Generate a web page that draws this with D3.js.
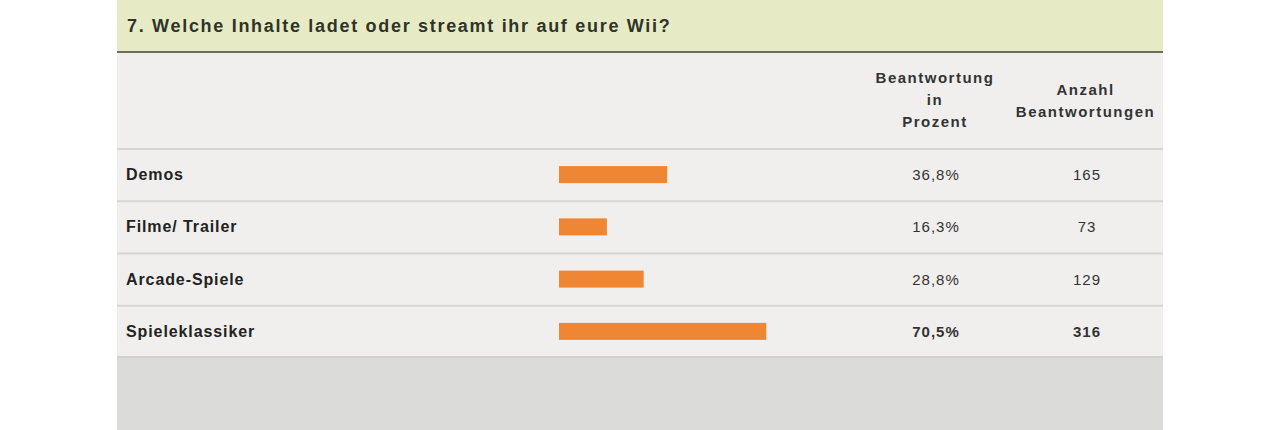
<!DOCTYPE html>
<html><head><meta charset="utf-8">
<script src="https://cdn.jsdelivr.net/npm/d3@7"></script>
<style>body{margin:0;background:#fff}svg{display:block}</style>
</head><body>
<svg id="c" width="1280" height="430"></svg>
<script>
const title = "7. Welche Inhalte ladet oder streamt ihr auf eure Wii?";
const categories = ["Demos", "Filme/ Trailer", "Arcade-Spiele", "Spieleklassiker"];
const percents = [36.8, 16.3, 28.8, 70.5];
const counts = [165, 73, 129, 316];
const percentLabels = ["36,8%", "16,3%", "28,8%", "70,5%"];
const headerPercent = ["Beantwortung", "in", "Prozent"];
const headerCount = ["Anzahl", "Beantwortungen"];

const svg = d3.select("#c");
const L = 117, R = 1163;
const font = "'Liberation Sans', Arial, sans-serif";

// background panels
svg.append("rect").attr("x", L).attr("y", 0).attr("width", R - L).attr("height", 51).attr("fill", "#e7ebc5");
svg.append("rect").attr("x", L).attr("y", 51).attr("width", R - L).attr("height", 2).attr("fill", "#6e6e60");
svg.append("rect").attr("x", L).attr("y", 53).attr("width", R - L).attr("height", 305).attr("fill", "#f0efed");
svg.append("rect").attr("x", L).attr("y", 358).attr("width", R - L).attr("height", 72).attr("fill", "#dbdbd9");

svg.append("text").attr("x", 127).attr("y", 32).attr("font-family", font).attr("font-weight", "bold")
  .attr("font-size", 18).attr("letter-spacing", 1.7).attr("fill", "#2f3328").text(title);

// header
const hp = svg.append("text").attr("font-family", font).attr("font-weight", "bold").attr("font-size", 15)
  .attr("letter-spacing", 1.5).attr("fill", "#333").attr("text-anchor", "middle");
headerPercent.forEach((t, i) => hp.append("tspan").attr("x", 935).attr("y", 83 + i * 22).text(t));
const hc = svg.append("text").attr("font-family", font).attr("font-weight", "bold").attr("font-size", 15)
  .attr("letter-spacing", 1.5).attr("fill", "#333").attr("text-anchor", "middle");
headerCount.forEach((t, i) => hc.append("tspan").attr("x", 1085.5).attr("y", 95 + i * 22).text(t));

// rows
const y = d3.scaleBand().domain(categories).range([148, 357]).padding(0);
const x = d3.scaleLinear().domain([0, 100]).range([559, 559 + 294]);

const rows = svg.selectAll("g.row").data(categories).join("g").attr("class", "row");
rows.append("rect").attr("x", L).attr("y", d => y(d)).attr("width", R - L).attr("height", 2).attr("fill", "#d6d6d4");
rows.append("text").attr("x", 126).attr("y", d => y(d) + y.bandwidth() / 2 + 6)
  .attr("font-family", font).attr("font-weight", "bold").attr("font-size", 16).attr("letter-spacing", 0.9)
  .attr("fill", "#222").text(d => d);
rows.append("rect").attr("x", x(0)).attr("y", d => y(d) + y.bandwidth() / 2 - 8)
  .attr("width", (d, i) => x(percents[i]) - x(0)).attr("height", 17).attr("fill", "#ee8633");
const last = categories.length - 1;
rows.append("text").attr("x", 936).attr("y", d => y(d) + y.bandwidth() / 2 + 6)
  .attr("text-anchor", "middle").attr("font-family", font).attr("font-size", 15).attr("letter-spacing", 1)
  .attr("font-weight", (d, i) => i === last ? "bold" : "normal").attr("fill", "#333")
  .text((d, i) => percentLabels[i]);
rows.append("text").attr("x", 1087).attr("y", d => y(d) + y.bandwidth() / 2 + 6)
  .attr("text-anchor", "middle").attr("font-family", font).attr("font-size", 15).attr("letter-spacing", 1)
  .attr("font-weight", (d, i) => i === last ? "bold" : "normal").attr("fill", "#333")
  .text((d, i) => counts[i]);
svg.append("rect").attr("x", L).attr("y", 356).attr("width", R - L).attr("height", 2).attr("fill", "#d0d0ce");
</script>
</body></html>
